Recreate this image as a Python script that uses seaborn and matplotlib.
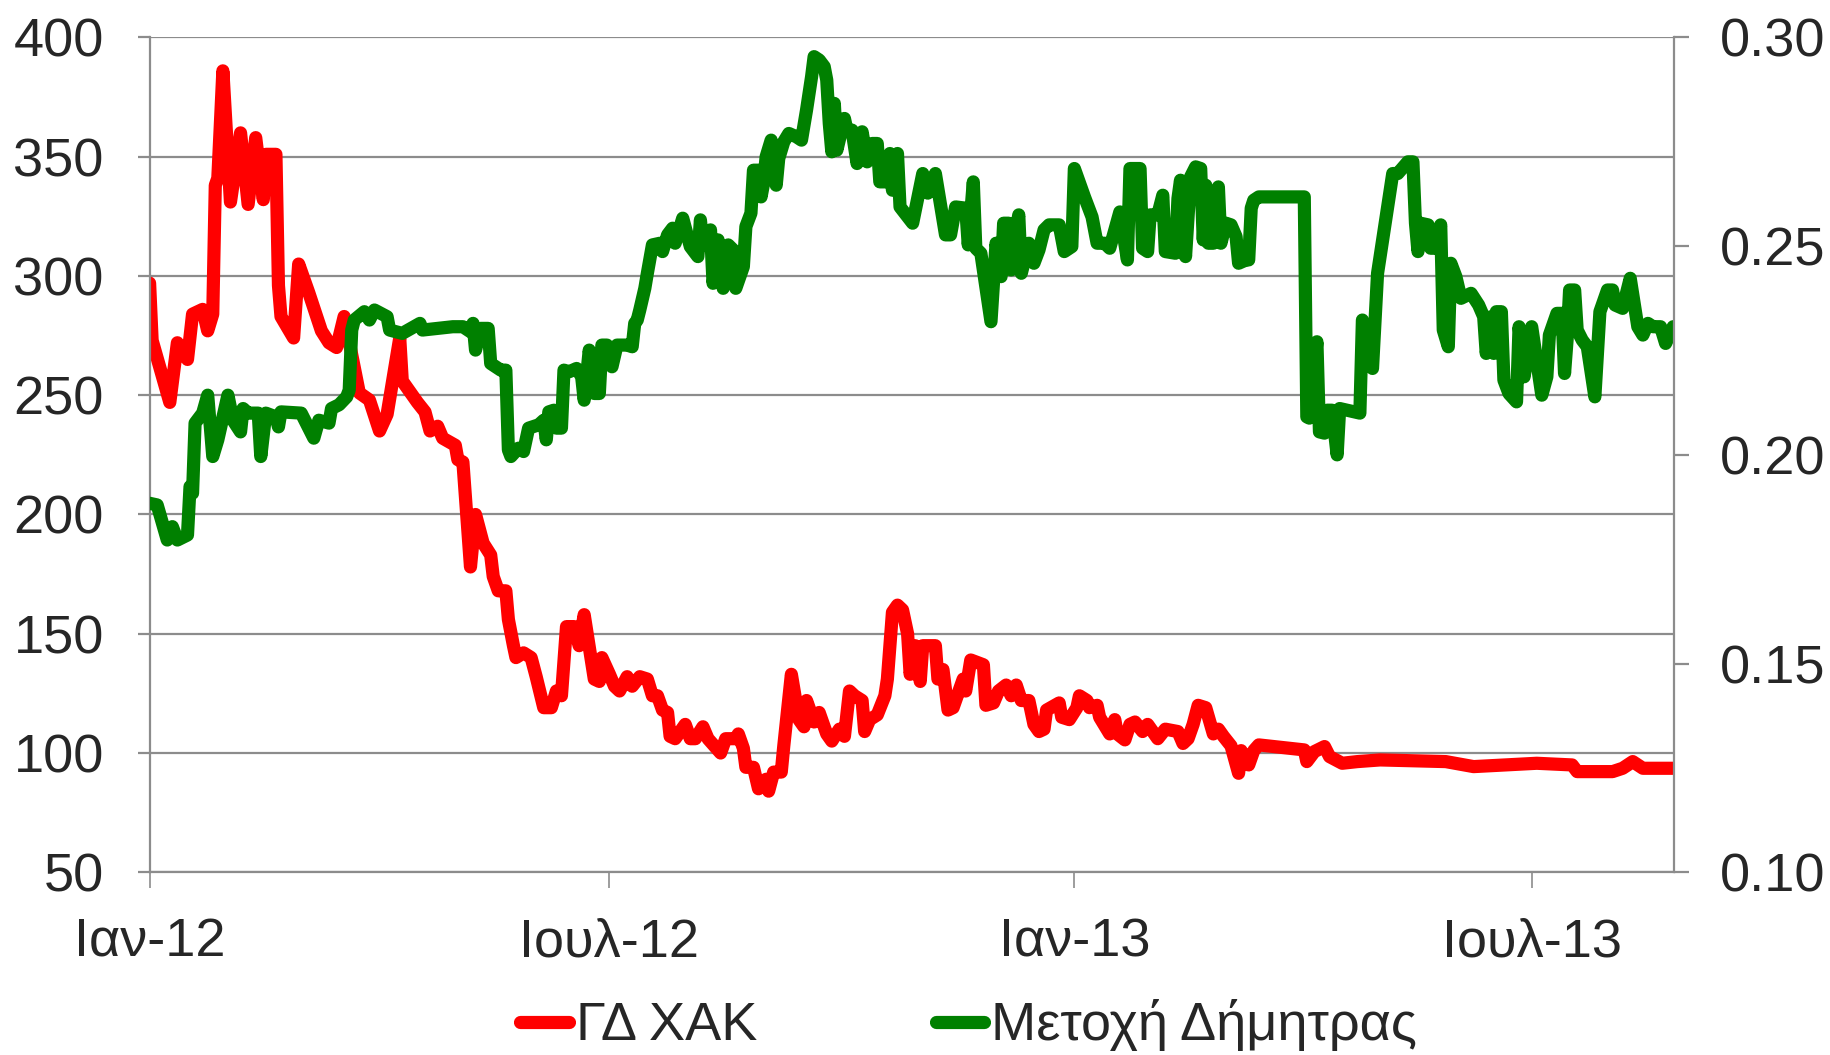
import numpy as np
import pandas as pd
import seaborn as sns
import matplotlib.pyplot as plt

red_color = "#ff0000"
green_color = "#008000"
grid_color = "#8c8c8c"

start = pd.Timestamp("2012-01-01")
end_day = 603.5

# ΓΔ ΧΑΚ (left axis), days counted from 2012-01-01
gd_days = [0, 1, 8, 11, 15, 17, 21, 23, 25, 26, 27, 29, 32, 36, 39, 42, 45, 46, 50, 51,
           52, 57, 59, 63, 68, 71, 74, 77, 83, 87, 91, 94, 99, 100, 106, 109, 111, 114, 116, 121,
           122, 124, 127, 129, 132, 135, 136, 138, 141, 142, 144, 145, 148, 151, 153, 156, 159, 161, 163, 165,
           168, 170, 172, 176, 178, 179, 182, 184, 186, 189, 191, 194, 197, 199, 201, 203, 205, 206, 208, 212,
           214, 216, 219, 221, 226, 228, 232, 233, 235, 236, 239, 241, 244, 245, 247, 250, 251, 254, 257, 259,
           260, 263, 265, 268, 270, 273, 275, 277, 279, 282, 283, 285, 288, 291, 292, 294, 296, 298, 300, 301,
           303, 305, 306, 311, 312, 314, 316, 318, 322, 323, 325, 330, 331, 334, 336, 339, 341, 343, 345, 348,
           350, 352, 354, 355, 360, 361, 364, 367, 368, 371, 372, 375, 376, 380, 382, 383, 386, 388, 390, 393,
           395, 399, 402, 407, 409, 411, 413, 415, 418, 421, 423, 425, 428, 431, 432, 435, 437, 439, 457, 458,
           461, 465, 467, 472, 478, 487, 513, 524, 549, 563, 565, 579, 583, 587, 591, 603]
gd_vals = [297, 273, 247, 272, 265, 284, 286, 277, 284, 338, 341, 386, 331, 360, 330, 358, 332, 351, 351, 296,
           283, 274, 305, 293, 277, 272, 270, 283, 251, 248, 235, 242, 274, 256, 247, 243, 235, 237, 232, 229,
           223, 222, 178, 200, 188, 183, 174, 168, 168, 156, 145, 140, 142, 140, 132, 119, 119, 126, 124, 153,
           153, 145, 158, 131, 130, 140, 133, 128, 126, 132, 128, 132, 131, 124, 124, 118, 117, 107, 106, 112,
           106, 106, 111, 106, 100, 106, 106, 108, 102, 94, 94, 85, 89, 84, 92, 92, 103, 133, 114, 111,
           122, 113, 117, 108, 105, 110, 107, 126, 124, 122, 109, 114, 116, 124, 131, 159, 162, 160, 150, 133,
           145, 130, 145, 145, 131, 135, 118, 119, 131, 126, 139, 137, 120, 121, 126, 128.5, 124, 128.5, 122, 122,
           112, 109, 110, 118, 121, 115, 114, 119, 124, 122, 119, 120, 115, 108, 114, 108, 105.5, 112, 113, 109,
           112, 106, 110, 109, 104, 106, 112, 120, 119, 108, 110, 107, 103, 91.5, 101, 95, 101, 103.4, 101.3, 96.4,
           100.6, 102.7, 98.5, 95.7, 96.4, 97.1, 96.4, 94.3, 95.7, 95, 92.2, 92.2, 93.6, 96.4, 93.6, 93.6]

# Μετοχή Δήμητρας (right axis), days counted from 2012-01-01
md_days = [0, 3, 7, 9, 11, 15, 16, 17, 18, 21, 23, 25, 27, 31, 33, 36, 37, 39, 43, 44,
           46, 50, 51, 52, 60, 65, 67, 71, 72, 75, 78, 79, 80, 81, 85, 87, 89, 94, 95, 100,
           107, 108, 120, 124, 127, 128, 129, 131, 134, 135, 139, 141, 142, 143, 146, 148, 150, 154, 156, 157,
           158, 160, 161, 163, 164, 166, 169, 171, 172, 174, 176, 178, 179, 181, 183, 185, 189, 191, 192, 193,
           194, 196, 197, 199, 202, 203, 205, 207, 208, 211, 214, 217, 218, 219, 222, 223, 225, 227, 229, 231,
           232, 235, 236, 238, 239, 241, 242, 243, 244, 246, 247, 248, 249, 251, 253, 256, 258, 260, 262, 263,
           265, 267, 268, 269, 270, 271, 272, 275, 276, 278, 280, 282, 284, 286, 288, 289, 292, 293, 294, 296,
           297, 302, 306, 308, 311, 315, 317, 319, 323, 324, 326, 327, 329, 333, 335, 337, 338, 340, 341, 342,
           344, 345, 348, 350, 352, 354, 356, 360, 362, 365, 366, 370, 373, 374, 375, 378, 380, 382, 384, 387,
           388, 392, 393, 395, 396, 399, 401, 402, 406, 407, 408, 410, 412, 414, 416, 417, 418, 419, 421, 423,
           424, 426, 428, 430, 431, 434, 435, 436, 437, 439, 457, 458, 459, 462, 463, 465, 466, 468, 470, 471,
           479, 480, 484, 486, 492, 494, 498, 500, 501, 502, 503, 506, 507, 509, 511, 512, 514, 515, 517, 519,
           523, 526, 528, 529, 531, 532, 533, 535, 536, 538, 541, 542, 544, 547, 551, 553, 554, 557, 559, 560,
           561, 562, 564, 565, 567, 569, 572, 574, 577, 579, 580, 583, 586, 589, 591, 593, 595, 598, 600, 603]
md_vals = [.1884, .1880, .1796, .1828, .1796, .1808, .1924, .1908, .2076, .2100, .2143, .1996, .2036, .2143, .2083, .2055, .2111, .2100, .2100, .1996,
           .2100, .2091, .2067, .2103, .2100, .2040, .2083, .2076, .2111, .2120, .2139, .2155, .2299, .2323, .2343, .2323, .2347, .2331, .2299, .2291,
           .2315, .2299, .2307, .2307, .2295, .2315, .2251, .2303, .2303, .2219, .2203, .2203, .2012, .1996, .2016, .2008, .2064, .2072, .2083, .2036,
           .2103, .2107, .2064, .2064, .2203, .2199, .2207, .2187, .2131, .2251, .2147, .2147, .2263, .2263, .2211, .2263, .2263, .2259, .2315, .2323,
           .2347, .2399, .2435, .2503, .2507, .2487, .2527, .2543, .2507, .2567, .2499, .2475, .2563, .2503, .2539, .2411, .2515, .2399, .2503, .2491,
           .2399, .2451, .2547, .2579, .2682, .2682, .2618, .2650, .2714, .2754, .2730, .2646, .2710, .2750, .2770, .2762, .2754, .2826, .2906, .2954,
           .2946, .2930, .2898, .2794, .2726, .2842, .2730, .2806, .2778, .2778, .2698, .2774, .2702, .2746, .2746, .2654, .2654, .2722, .2634, .2722,
           .2594, .2555, .2674, .2627, .2674, .2527, .2527, .2594, .2591, .2503, .2654, .2495, .2483, .2319, .2507, .2427, .2555, .2555, .2443, .2507,
           .2575, .2435, .2507, .2459, .2491, .2539, .2551, .2551, .2487, .2499, .2686, .2618, .2570, .2539, .2507, .2507, .2495, .2539, .2582, .2467,
           .2686, .2686, .2495, .2487, .2575, .2575, .2622, .2487, .2483, .2614, .2658, .2475, .2666, .2690, .2686, .2515, .2646, .2507, .2507, .2642,
           .2507, .2555, .2551, .2523, .2459, .2467, .2467, .2591, .2610, .2618, .2618, .2091, .2088, .2271, .2055, .2052, .2107, .2107, .2000, .2111,
           .2100, .2323, .2207, .2435, .2674, .2674, .2702, .2702, .2555, .2487, .2555, .2551, .2495, .2495, .2551, .2299, .2259, .2459, .2427, .2375,
           .2387, .2359, .2331, .2243, .2331, .2243, .2343, .2343, .2179, .2147, .2127, .2307, .2187, .2307, .2143, .2187, .2287, .2339, .2339, .2195,
           .2275, .2395, .2395, .2299, .2275, .2259, .2139, .2343, .2395, .2395, .2359, .2351, .2423, .2307, .2287, .2315, .2307, .2307, .2267, .2307]

tick_dates = ["2012-01-01", "2012-07-01", "2013-01-01", "2013-07-01"]
tick_labels = ["Ιαν-12", "Ιουλ-12", "Ιαν-13", "Ιουλ-13"]
left_ticks = [50, 100, 150, 200, 250, 300, 350, 400]
right_ticks = [0.10, 0.15, 0.20, 0.25, 0.30]
series_names = ["ΓΔ ΧΑΚ", "Μετοχή Δήμητρας"]

sns.set_style("white")
plt.rcParams["font.family"] = ["Liberation Sans", "DejaVu Sans"]

gd = pd.DataFrame({"date": start + pd.to_timedelta(gd_days, unit="D"), "value": gd_vals})
md = pd.DataFrame({"date": start + pd.to_timedelta(md_days, unit="D"), "value": md_vals})

fig = plt.figure(figsize=(18.31, 10.55), dpi=100)
ax = fig.add_axes([0.0817, 0.1732, 0.8328, 0.7913])
ax2 = ax.twinx()

line_kw = dict(estimator=None, sort=False, legend=False)
sns.lineplot(data=gd, x="date", y="value", ax=ax, color=red_color, **line_kw)
sns.lineplot(data=md, x="date", y="value", ax=ax2, color=green_color, **line_kw)
for line in ax.lines + ax2.lines:
    line.set_linewidth(9.5)
    line.set_solid_joinstyle("round")
    line.set_solid_capstyle("round")

ax.set_xlim(start, start + pd.Timedelta(days=end_day))
ax.set_ylim(50, 400)
ax2.set_ylim(0.10, 0.30)

ax.set_xticks(pd.to_datetime(tick_dates))
ax.set_xticklabels(tick_labels)
ax.set_yticks(left_ticks)
ax.set_yticklabels([str(t) for t in left_ticks])
ax2.set_yticks(right_ticks)
ax2.set_yticklabels([f"{t:.2f}" for t in right_ticks])

ax.set_xlabel("")
ax.set_ylabel("")
ax2.set_ylabel("")

ax.yaxis.grid(True, color=grid_color, linewidth=1.6)
ax.xaxis.grid(False)
ax2.grid(False)

for name, sp in ax.spines.items():
    sp.set_visible(name in ("left", "bottom"))
    sp.set_color(grid_color)
    sp.set_linewidth(1.6)
for name, sp in ax2.spines.items():
    sp.set_visible(name == "right")
    sp.set_color(grid_color)
    sp.set_linewidth(1.6)

fs = 39
ax.tick_params(axis="y", direction="out", length=9, width=1.6, color=grid_color,
               pad=24, labelsize=fs, left=True)
ax.tick_params(axis="x", direction="out", length=11.5, width=1.2, color=grid_color,
               pad=21, labelsize=fs, bottom=True)
ax2.tick_params(axis="y", direction="out", length=10.5, width=1.6, color=grid_color,
                pad=22, labelsize=fs, right=True)

handles = [ax.lines[0], ax2.lines[0]]
fig.legend(handles, series_names, loc="center", bbox_to_anchor=(0.529, 0.028), ncol=2,
           frameon=False, fontsize=fs, handlelength=0.9, handletextpad=0.12,
           columnspacing=3.3, borderaxespad=0)

fig.savefig("out.png", dpi=100, facecolor="white")
